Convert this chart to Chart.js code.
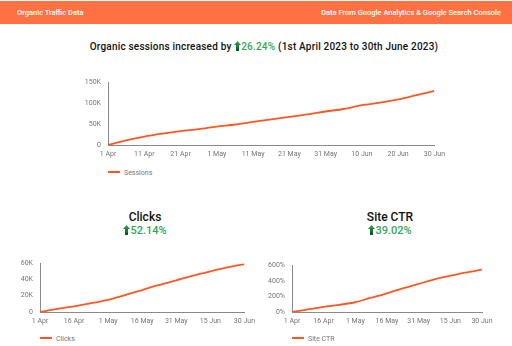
<!DOCTYPE html>
<html>
<head>
<meta charset="utf-8">
<script src="https://cdn.jsdelivr.net/npm/chart.js@4.4.0/dist/chart.umd.min.js"></script>
<style>
  html, body { margin: 0; padding: 0; background: #fff; }
  body { width: 512px; height: 346px; position: relative; overflow: hidden; font-family: Roboto, sans-serif; }
  .header { position: absolute; left: 0; top: 1px; width: 512px; height: 23px; background: #ff7043; color: #fff; font-size: 7.5px; font-weight: 500; }
  .header .l { position: absolute; left: 17px; top: 7px; }
  .header .r { position: absolute; right: 11px; top: 7px; }
  .title { position: absolute; left: 0; width: 512px; text-align: center; color: #111; font-weight: 500; white-space: nowrap; }
  .pct { color: #34a853; }
  .arrow { display: inline-block; vertical-align: -1px; }
  .box { position: absolute; }
  .legend { position: absolute; font-size: 7px; color: #757575; white-space: nowrap; }
  .legend i { display: inline-block; width: 12px; height: 2px; background: #ff5722; vertical-align: 2px; margin-right: 4px; }
</style>
</head>
<body>
<div class="header"><span class="l">Organic Traffic Data</span><span class="r">Data From Google Analytics &amp; Google Search Console</span></div>

<div class="title" style="left:8px;top:41px;font-size:10px;letter-spacing:0.2px;">Organic sessions increased by <span class="pct"><svg class="arrow" width="7" height="10" viewBox="0 0 7 10"><defs><linearGradient id="g1" x1="0" y1="0" x2="0" y2="1"><stop offset="0" stop-color="#34a853"/><stop offset="1" stop-color="#0b4d1c"/></linearGradient></defs><path d="M3.5 0 L7 4 L5 4 L5 10 L2 10 L2 4 L0 4 Z" fill="url(#g1)"/></svg>26.24%</span> (1st April 2023 to 30th June 2023)</div>

<div class="title" style="left:95px;width:100px;top:210px;font-size:12px;">Clicks</div>
<div class="title" style="left:95px;width:100px;top:224px;font-size:11px;"><span class="pct"><svg class="arrow" width="7" height="10" viewBox="0 0 7 10"><path d="M3.5 0 L7 4 L5 4 L5 10 L2 10 L2 4 L0 4 Z" fill="url(#g1)"/></svg>52.14%</span></div>

<div class="title" style="left:340px;width:100px;top:210px;font-size:12px;">Site CTR</div>
<div class="title" style="left:340px;width:100px;top:224px;font-size:11px;"><span class="pct"><svg class="arrow" width="7" height="10" viewBox="0 0 7 10"><path d="M3.5 0 L7 4 L5 4 L5 10 L2 10 L2 4 L0 4 Z" fill="url(#g1)"/></svg>39.02%</span></div>

<div class="box" style="left:60px;top:71px;width:390px;height:88px;"><canvas id="sessionsChart"></canvas></div>
<div class="legend" style="left:108px;top:169px;"><i></i>Sessions</div>

<div class="box" style="left:0px;top:252px;width:260px;height:75px;"><canvas id="clicksChart"></canvas></div>
<div class="legend" style="left:40px;top:335px;"><i></i>Clicks</div>

<div class="box" style="left:252px;top:254px;width:250px;height:73px;"><canvas id="ctrChart"></canvas></div>
<div class="legend" style="left:292px;top:335px;"><i></i>Site CTR</div>

<script>
// day index from 1 Apr (0) to 30 Jun (90)
const sessionDays = [0, 5, 10, 15, 20, 25, 30, 35, 40, 45, 50, 55, 60, 65, 70, 75, 80, 85, 90];
const sessionValues = [0, 11000, 20000, 27000, 33000, 38000, 44000, 49000, 55000, 61000, 67000, 73000, 80000, 86000, 95000, 101000, 109000, 119000, 129000];
const sessionTickLabels = ["1 Apr", "11 Apr", "21 Apr", "1 May", "11 May", "21 May", "31 May", "10 Jun", "20 Jun", "30 Jun"];

const gscDays = [0, 7, 15, 22, 30, 37, 45, 52, 60, 67, 75, 82, 90];
const clickValues = [0, 3500, 7000, 10500, 15000, 20500, 27000, 33000, 39000, 44500, 50000, 54500, 59000];
const ctrValues = [0, 30, 65, 90, 125, 180, 240, 300, 360, 415, 465, 505, 543];
const gscTickLabels = ["1 Apr", "16 Apr", "1 May", "16 May", "31 May", "15 Jun", "30 Jun"];

const LINE = "#ff5722";
const AXIS = "#8a8a8a";
const TICK = "#757575";

function toPoints(xs, ys) {
  return xs.map((x, i) => ({ x: x, y: ys[i] }));
}

function makeChart(id, label, xs, ys, opts) {
  const ctx = document.getElementById(id).getContext("2d");
  return new Chart(ctx, {
    type: "line",
    data: {
      datasets: [{
        label: label,
        data: toPoints(xs, ys),
        borderColor: LINE,
        backgroundColor: LINE,
        borderWidth: 1.8,
        pointRadius: 0,
        tension: 0.3,
      }],
    },
    options: {
      responsive: true,
      maintainAspectRatio: false,
      animation: false,
      layout: { padding: opts.padding },
      plugins: { legend: { display: false }, tooltip: { enabled: false } },
      scales: {
        x: {
          type: "linear",
          min: 0,
          max: 90,
          afterFit: (s) => { s.height = opts.xHeight; },
          afterBuildTicks: (s) => {
            s.ticks = opts.tickLabels.map((t, i) => ({ value: i * opts.step }));
          },
          grid: { display: false, drawTicks: false },
          border: { display: true, color: AXIS, width: 1 },
          ticks: {
            color: TICK,
            font: { family: "Roboto", size: 7 },
            padding: 5,
            maxRotation: 0,
            autoSkip: false,
            callback: (v) => opts.tickLabels[Math.round(v / opts.step)],
          },
        },
        y: {
          min: 0,
          max: opts.yMax,
          afterFit: (s) => { s.width = opts.yWidth; },
          grid: { display: false, drawTicks: false },
          border: { display: true, color: AXIS, width: 1 },
          ticks: {
            color: TICK,
            font: { family: "Roboto", size: 7 },
            padding: 7,
            stepSize: opts.yStep,
            callback: opts.yFormat,
          },
        },
      },
    },
  });
}

const kFormat = (v) => v === 0 ? "0" : (v / 1000) + "K";

makeChart("sessionsChart", "Sessions", sessionDays, sessionValues, {
  padding: { left: 0, right: 13, top: 2, bottom: 0 },
  xHeight: 14, yWidth: 48, yMax: 150000, yStep: 50000,
  tickLabels: sessionTickLabels, step: 10, yFormat: kFormat,
});

makeChart("clicksChart", "Clicks", gscDays, clickValues, {
  padding: { left: 0, right: 15, top: 2, bottom: 0 },
  xHeight: 15, yWidth: 40, yMax: 60000, yStep: 20000,
  tickLabels: gscTickLabels, step: 15, yFormat: kFormat,
});

makeChart("ctrChart", "Site CTR", gscDays, ctrValues, {
  padding: { left: 0, right: 20, top: 2, bottom: 0 },
  xHeight: 15, yWidth: 40, yMax: 600, yStep: 200,
  tickLabels: gscTickLabels, step: 15, yFormat: (v) => v + "%",
});
</script>
</body>
</html>
